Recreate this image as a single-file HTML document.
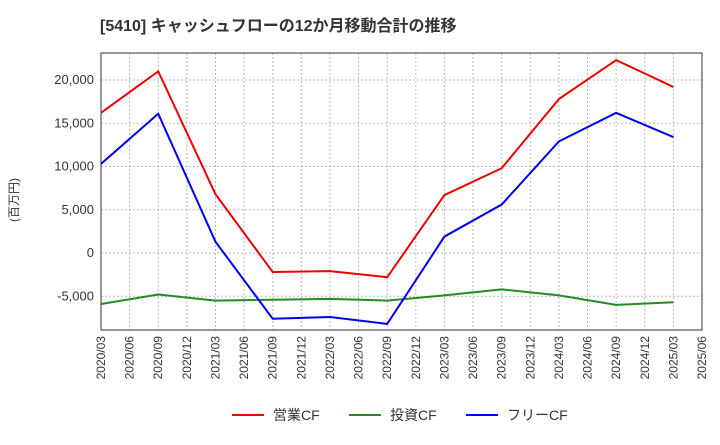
<!DOCTYPE html>
<html><head><meta charset="utf-8"><style>
body{margin:0;background:#fff;font-family:"Liberation Sans","Noto Sans CJK JP",sans-serif;}
svg text{font-family:"Liberation Sans","Noto Sans CJK JP",sans-serif;}
</style></head><body>
<svg id="c" width="720" height="440"></svg>
<script>
const xLabels=["2020/03","2020/06","2020/09","2020/12","2021/03","2021/06","2021/09","2021/12","2022/03","2022/06","2022/09","2022/12","2023/03","2023/06","2023/09","2023/12","2024/03","2024/06","2024/09","2024/12","2025/03","2025/06"];
const pointIdx=[0,2,4,6,8,10,12,14,16,18,20];
const opCF=[16200,21000,6800,-2200,-2100,-2800,6700,9800,17800,22300,19200];
const invCF=[-5900,-4800,-5500,-5400,-5300,-5500,-4900,-4200,-4900,-6000,-5700];
const freeCF=[10300,16100,1300,-7600,-7400,-8200,1900,5600,12900,16200,13400];
const yTicks=[-5000,0,5000,10000,15000,20000];
const yTickLabels=["-5,000","0","5,000","10,000","15,000","20,000"];
const L=101,R=702,T=53,B=330;
const X=i=>L+i*(R-L)/(xLabels.length-1);
const Y=v=>253-v*(173/20000);
const s=document.getElementById('c');const ns="http://www.w3.org/2000/svg";
function el(t,a,p){const e=document.createElementNS(ns,t);for(const k in a)e.setAttribute(k,a[k]);(p||s).appendChild(e);return e;}
let t=el('text',{x:100,y:31,'font-size':16,'font-weight':'bold',fill:'#333'});t.textContent="[5410]  キャッシュフローの12か月移動合計の推移";

xLabels.forEach((lb,i)=>{const l=el('line',{x1:X(i),x2:X(i),y1:T,y2:B,stroke:'#bbb','stroke-dasharray':'2,2'});

const tx=el('text',{transform:`translate(${X(i)+4},${B+6}) rotate(-90)`,'font-size':12,fill:'#333','text-anchor':'end'});tx.textContent=lb;
});
yTicks.forEach((v,i)=>{const l=el('line',{x1:L,x2:R,y1:Y(v),y2:Y(v),stroke:'#bbb','stroke-dasharray':'2,2'});

const tx=el('text',{x:L-7,y:Y(v)+4,'font-size':13,fill:'#333','text-anchor':'end'});tx.textContent=yTickLabels[i];
});
const fr=el('rect',{x:L,y:T,width:R-L,height:B-T,fill:'none',stroke:'#333'});

const yt=el('text',{transform:'translate(18,200) rotate(-90)','font-size':12,fill:'#333','text-anchor':'middle'});yt.textContent="(百万円)";

[[opCF,'#e00','operating-cf-line'],[invCF,'#228b22','investing-cf-line'],[freeCF,'#00e','free-cf-line']].forEach(([d,c,n])=>{
const p=el('polyline',{points:d.map((v,i)=>X(pointIdx[i])+','+Y(v)).join(' '),fill:'none',stroke:c,'stroke-width':2});
});
[[232,'#e00','営業CF','legend-operating'],[349,'#228b22','投資CF','legend-investing'],[466,'#00e','フリーCF','legend-free']].forEach(([x,c,lb,n])=>{
const g=el('g',{});
el('line',{x1:x,x2:x+32,y1:415,y2:415,stroke:c,'stroke-width':2},g);
const tx=el('text',{x:x+41,y:420,'font-size':14,fill:'#333'},g);tx.textContent=lb;});
</script>
</body></html>
